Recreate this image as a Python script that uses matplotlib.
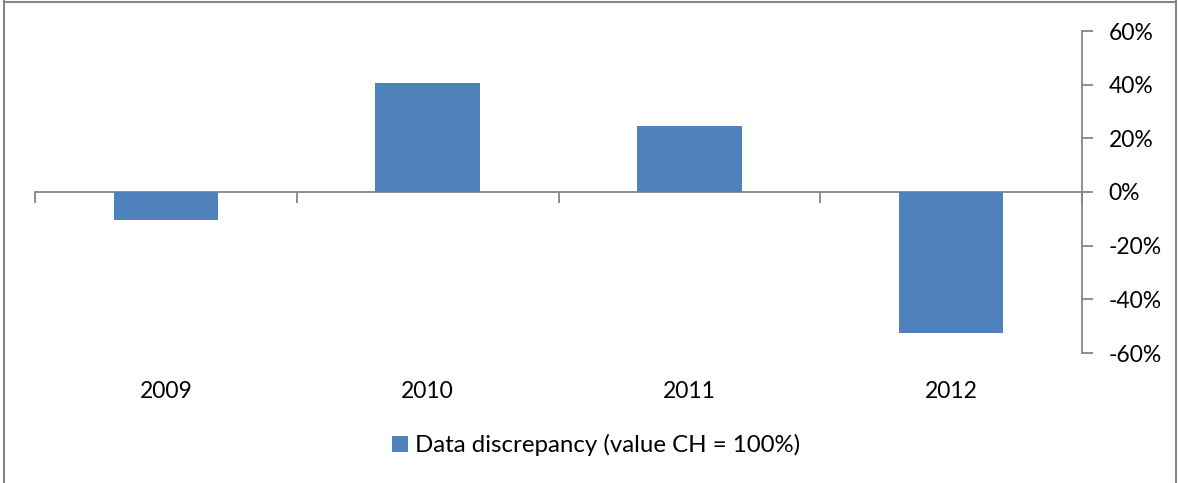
import matplotlib.pyplot as plt
from matplotlib.ticker import FuncFormatter

years = ["2009", "2010", "2011", "2012"]
discrepancy = [-10.4, 40.6, 24.6, -52.5]
yticks = [-60, -40, -20, 0, 20, 40, 60]
series_name = "Data discrepancy (value CH = 100%)"

W, H = 1179, 483
plt.rcParams['font.family'] = ['Lato', 'DejaVu Sans']
fig = plt.figure(figsize=(W / 100, H / 100), dpi=100)
grey = "#868686"

# outer chart border (left, top, right; bottom is cut off)
fig.add_artist(plt.Line2D([4 / W, 4 / W], [0, 1 - 1 / H], color="#878787", lw=1.5))
fig.add_artist(plt.Line2D([4 / W, 1176 / W], [1 - 1.5 / H, 1 - 1.5 / H], color="#878787", lw=1.5))
fig.add_artist(plt.Line2D([1176 / W, 1176 / W], [0, 1 - 1 / H], color="#878787", lw=1.5))

ax = fig.add_axes([35 / W, 1 - 353 / H, (1082 - 35) / W, (353 - 31) / H])
x = range(len(years))
ax.bar(x, discrepancy, width=0.4, color="#4F81BD", label=series_name, zorder=2)

ax.set_xlim(-0.5, 3.5)
ax.set_ylim(-60, 60)

for s in ["top", "left", "bottom"]:
    ax.spines[s].set_visible(False)
ax.spines["right"].set_color(grey)
ax.spines["right"].set_linewidth(1.3)

ax.yaxis.tick_right()
ax.set_yticks(yticks)
ax.yaxis.set_major_formatter(FuncFormatter(lambda v, p: f"{v:.0f}%"))
ax.tick_params(axis="y", length=8, width=1.3, color=grey, labelsize=16.5, pad=11)

ax.set_xticks(list(x))
ax.set_xticklabels(years)
ax.tick_params(axis="x", length=0, labelsize=16.5, pad=20)

# category axis drawn at zero with boundary ticks
sec = ax.secondary_xaxis(0.5)
sec.set_xticks([-0.5, 0.5, 1.5, 2.5, 3.5])
sec.set_xticklabels([])
for s in sec.spines.values():
    s.set_color(grey)
    s.set_linewidth(1.3)
sec.tick_params(axis="x", length=8, width=1.3, color=grey, direction="in")

fig.legend(loc="center", bbox_to_anchor=(596 / W, 1 - 445 / H), frameon=False,
           fontsize=17.3, handlelength=0.65, handleheight=0.65, handletextpad=0.3)

fig.savefig("out.png", dpi=100)
